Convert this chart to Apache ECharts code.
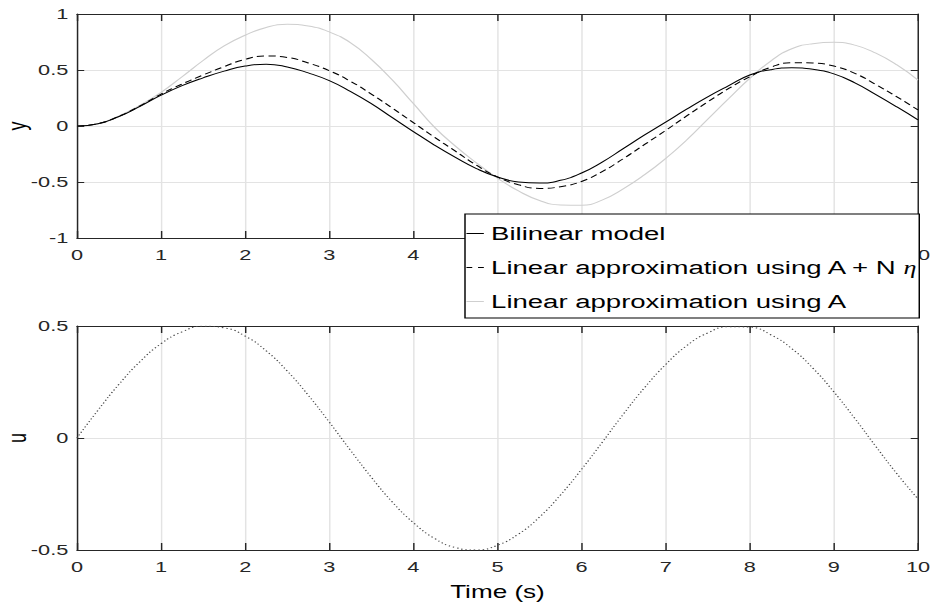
<!DOCTYPE html>
<html>
<head>
<meta charset="utf-8">
<script src="https://cdn.jsdelivr.net/npm/echarts@6/dist/echarts.min.js"></script>
<style>
html,body{margin:0;padding:0;background:#fff;overflow:hidden;}
#chart{width:643px;height:608px;transform:scaleX(1.4495);transform-origin:0 0;}
</style>
</head>
<body>
<div id="chart"></div>
<script>
// ---- data ----
const time = [0,0.25,0.5,0.75,1,1.25,1.5,1.75,2,2.25,2.5,2.75,3,3.25,3.5,3.75,4,4.25,4.5,4.75,5,
  5.25,5.5,5.75,6,6.25,6.5,6.75,7,7.25,7.5,7.75,8,8.25,8.5,8.75,9,9.25,9.5,9.75,10];
const bilinear = [0,0.02,0.085,0.175,0.275,0.36,0.43,0.49,0.535,0.552,0.527,0.474,0.405,0.31,0.2,0.075,-0.05,
  -0.17,-0.28,-0.38,-0.455,-0.5,-0.51,-0.485,-0.42,-0.32,-0.2,-0.08,0.035,0.15,0.26,0.36,0.455,0.503,0.52,
  0.507,0.465,0.385,0.28,0.17,0.055];
const linearAN = [0,0.02,0.087,0.18,0.285,0.375,0.455,0.53,0.595,0.625,0.612,0.563,0.494,0.4,0.285,0.16,0.03,
  -0.1,-0.225,-0.35,-0.455,-0.525,-0.557,-0.542,-0.495,-0.405,-0.29,-0.165,-0.04,0.09,0.215,0.335,0.44,
  0.525,0.565,0.562,0.535,0.47,0.37,0.26,0.143];
const linearA = [0,0.02,0.09,0.185,0.3,0.44,0.585,0.715,0.81,0.88,0.908,0.893,0.84,0.745,0.595,0.41,0.2,
  -0.01,-0.18,-0.33,-0.465,-0.58,-0.665,-0.705,-0.708,-0.66,-0.56,-0.435,-0.29,-0.125,0.06,0.245,0.425,
  0.58,0.69,0.735,0.747,0.722,0.65,0.545,0.41];
const uValues = [0,0.124,0.24,0.341,0.421,0.474,0.499,0.492,0.455,0.389,0.299,0.191,0.071,-0.054,-0.175,
  -0.286,-0.378,-0.448,-0.489,-0.5,-0.479,-0.429,-0.353,-0.254,-0.14,-0.017,0.108,0.225,0.328,0.412,0.469,
  0.497,0.495,0.461,0.399,0.312,0.206,0.087,-0.038,-0.16,-0.272];
const xTicks = [0,1,2,3,4,5,6,7,8,9,10];
const yTopTicks = [-1,-0.5,0,0.5,1];
const uTicks = [-0.5,0,0.5];
// top-axis tick labels that the legend box hides completely in the reference
const topHiddenTicks = [5,6,7,8,9];
const seriesNames = ['Bilinear model','Linear approximation using A + N η','Linear approximation using A'];

// ---- styling ----
const AX = '#262626';
const GRIDC = '#e3e3e3';
const FONT = 'Liberation Sans, Arial, sans-serif';
const ICON_SOLID = 'path://M0,0H12V1H0Z';
const ICON_DASH = 'path://M0,0H4V1H0Z M8,0H12V1H8Z';

function pairs(xs, ys){ return xs.map((x,i)=>[x, ys[i]]); }

function xAx(gridIndex, pos, withLabels, name, hidden){
  return {
    type:'value', gridIndex, position:pos,
    min:xTicks[0], max:xTicks[xTicks.length-1], interval:1,
    axisLine:{show:true,onZero:false,lineStyle:{color:AX,width:1}},
    axisTick:{show:true,inside:true,length:7,lineStyle:{color:AX}},
    axisLabel:{show:withLabels,color:AX,fontSize:15,fontFamily:FONT,margin:9,
      formatter:function(v){ return (hidden && hidden.indexOf(v)>=0) ? '' : String(v); }},
    splitLine:{show:withLabels,lineStyle:{color:GRIDC,width:1}},
    name:name||'', nameLocation:'middle', nameGap:33, nameMoveOverlap:false,
    nameTextStyle:{color:'#000',fontSize:18,fontFamily:FONT}
  };
}
function yAx(gridIndex, pos, ticks, withLabels, name){
  return {
    type:'value', gridIndex, position:pos,
    min:ticks[0], max:ticks[ticks.length-1], interval:0.5,
    axisLine:{show:true,onZero:false,lineStyle:{color:AX,width:1}},
    axisTick:{show:true,inside:true,length:5,lineStyle:{color:AX}},
    axisLabel:{show:withLabels,color:AX,fontSize:15,fontFamily:FONT,margin:6},
    splitLine:{show:withLabels,lineStyle:{color:GRIDC,width:1}},
    name:name||'', nameLocation:'middle', nameGap:32, nameMoveOverlap:false,
    nameTextStyle:{color:'#000',fontSize:18,fontFamily:FONT}
  };
}

const chart = echarts.init(document.getElementById('chart'), null, {renderer:'svg', width:643, height:608});
chart.setOption({
  animation:false,
  backgroundColor:'#fff',
  grid:[
    {left:53.1, right:9.7, top:14, height:224, containLabel:false, outerBoundsMode:'none'},
    {left:53.1, right:9.7, top:326, height:224, containLabel:false, outerBoundsMode:'none'}
  ],
  xAxis:[
    xAx(0,'bottom',true,'',topHiddenTicks),
    xAx(0,'top',false),
    xAx(1,'bottom',true,'Time (s)'),
    xAx(1,'top',false)
  ],
  yAxis:[
    yAx(0,'left',yTopTicks,true,'y'),
    yAx(0,'right',yTopTicks,false),
    yAx(1,'left',uTicks,true,'u'),
    yAx(1,'right',uTicks,false)
  ],
  legend:{
    data:[
      {name:seriesNames[0], icon:ICON_SOLID},
      {name:seriesNames[1], icon:ICON_DASH},
      {name:seriesNames[2], icon:ICON_SOLID}
    ],
    orient:'vertical',
    left:320.8, top:214,
    padding:[10,2,7,1],
    itemGap:15,
    itemWidth:12, itemHeight:1,
    backgroundColor:'#fff',
    borderColor:'#000', borderWidth:1, borderRadius:0,
    formatter:function(n){ return n.replace(' η','{e|η}'); },
    textStyle:{color:'#000',fontSize:19,fontFamily:FONT,lineHeight:19,
      rich:{e:{fontStyle:'italic',fontFamily:'Liberation Serif',fontSize:18,color:'#000',padding:[0,0,0,3]}}}
  },
  series:[
    {name:seriesNames[2], type:'line', xAxisIndex:0, yAxisIndex:0, data:pairs(time,linearA),
      symbol:'none', smooth:true, lineStyle:{color:'#cfcfcf',width:1}, itemStyle:{color:'#cfcfcf'}},
    {name:seriesNames[1], type:'line', xAxisIndex:0, yAxisIndex:0, data:pairs(time,linearAN),
      symbol:'none', smooth:true, lineStyle:{color:'#000',width:1,type:[5,3]}, itemStyle:{color:'#000'}},
    {name:seriesNames[0], type:'line', xAxisIndex:0, yAxisIndex:0, data:pairs(time,bilinear),
      symbol:'none', smooth:true, lineStyle:{color:'#000',width:1}, itemStyle:{color:'#000'}},
    {name:'u', type:'line', xAxisIndex:2, yAxisIndex:2, data:pairs(time,uValues),
      symbol:'none', smooth:true, lineStyle:{color:'#444',width:1,type:[1,2]}, itemStyle:{color:'#444'}}
  ]
});
</script>
</body>
</html>
